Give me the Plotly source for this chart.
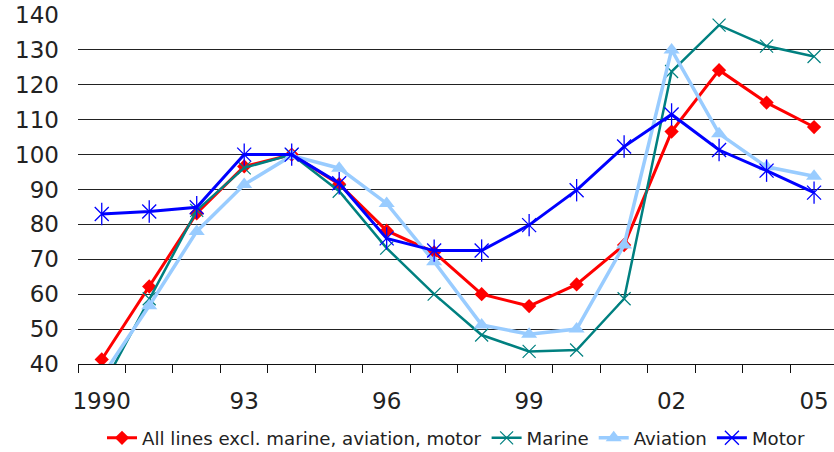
import plotly.graph_objects as go

years = list(range(1990, 2006))
all_lines = [41.3, 62.2, 83.2, 96.6, 100, 91.5, 78.2, 72, 60, 56.6, 62.8, 74.1, 106.6, 124.2, 114.9, 107.9]
marine = [33, 58.7, 84, 96.2, 100, 89.5, 73.2, 60, 48.3, 43.6, 44, 58.7, 123.8, 137.1, 131.1, 128.1]
aviation = [36.3, 56.7, 78, 91.4, 99.7, 96.1, 86, 69.3, 51.2, 48.5, 50, 74.1, 130, 106, 96.5, 93.8]
motor = [83, 83.7, 84.9, 100, 100, 91.8, 76, 72.5, 72.5, 79.8, 89.8, 102.3, 111.5, 101.3, 95.4, 89.1]

tick_years = [1990, 1993, 1996, 1999, 2002, 2005]
tick_text = ["1990", "93", "96", "99", "02", "05"]
boundaries = [y - 0.5 for y in range(1990, 2007)]

FONT = "DejaVu Sans"
TXT = "#222222"

fig = go.Figure()
fig.add_trace(go.Scatter(
    x=years, y=all_lines, name="All lines excl. marine, aviation, motor",
    mode="lines+markers", line=dict(color="#FF0000", width=3),
    marker=dict(symbol="diamond", size=11, color="#FF0000")))
fig.add_trace(go.Scatter(
    x=years, y=marine, name="Marine",
    mode="lines+markers", line=dict(color="#008080", width=2.5),
    marker=dict(symbol="x-thin", size=13, color="#008080",
                line=dict(color="#008080", width=1.2))))
fig.add_trace(go.Scatter(
    x=years, y=aviation, name="Aviation",
    mode="lines+markers", line=dict(color="#99CCFF", width=3.5),
    marker=dict(symbol="triangle-up", size=14, color="#99CCFF")))
fig.add_trace(go.Scatter(
    x=years, y=motor, name="Motor",
    mode="lines+markers", line=dict(color="#0000FF", width=3),
    marker=dict(symbol="x-thin", size=14, color="#0000FF",
                line=dict(color="#0000FF", width=1.3)),
    legendgroup="motor"))
fig.add_trace(go.Scatter(
    x=years, y=motor, name="Motor", showlegend=False, legendgroup="motor",
    mode="markers",
    marker=dict(symbol="line-ns", size=16, color="#0000FF",
                line=dict(color="#0000FF", width=1.3)),
    hoverinfo="skip"))

fig.update_layout(
    width=834, height=452,
    margin=dict(l=78, r=0, t=15, b=88, autoexpand=False),
    paper_bgcolor="white", plot_bgcolor="white",
    font=dict(family=FONT, color=TXT, size=23),
    showlegend=True,
    legend=dict(orientation="h", x=0.5, xanchor="center", y=-0.212, yanchor="middle",
                font=dict(family=FONT, size=18.2, color=TXT),
                itemwidth=30, tracegroupgap=0),
    xaxis=dict(
        range=[1989.5, 2005.42], tickmode="array", tickvals=tick_years, ticktext=tick_text,
        ticks="", showgrid=False, zeroline=False,
        showline=True, linecolor="#111111", linewidth=1.2,
        tickfont=dict(family=FONT, size=23, color=TXT),
        ticklabelstandoff=16,
        minor=dict(tickmode="array", tickvals=boundaries, ticks="outside", ticklen=8,
                   tickwidth=1, tickcolor="#111111", showgrid=False),
    ),
    yaxis=dict(
        range=[40, 140], tickmode="linear", tick0=40, dtick=10,
        ticks="", showgrid=True, gridcolor="#222222", gridwidth=1.2,
        zeroline=False, showline=False,
        tickfont=dict(family=FONT, size=23, color=TXT),
        ticklabelstandoff=18,
    ),
)

fig.write_html("out.html")
